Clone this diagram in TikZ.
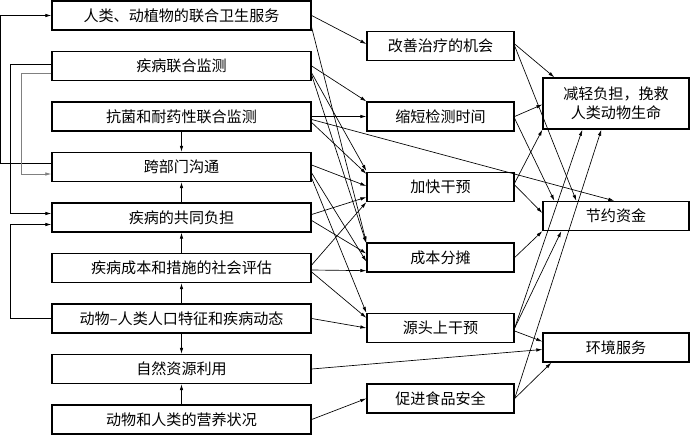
\documentclass[tikz,border=0pt]{standalone}
\usepackage{fontspec}
\newfontfamily\cjk{Noto Sans CJK SC}
\usetikzlibrary{arrows.meta,calc}

\begin{document}
\begin{tikzpicture}[x=0.75pt,y=-0.75pt,
  box/.style={draw,line width=1pt,inner sep=0pt,font=\cjk\fontsize{11.3}{14}\selectfont,align=center},
  lbox/.style={box,minimum width=194.25pt,minimum height=21.75pt},
  mbox/.style={box,minimum width=110.25pt,minimum height=21.75pt},
  rbox/.style={box,minimum width=109.5pt,minimum height=21.75pt},
  link/.style={line width=0.5pt,-{Latex[length=4.5pt,width=2.6pt]}}]
\useasboundingbox (0,0) rectangle (690,435);
\node[lbox] (L1) at (181.5,15.5) {人类、动植物的联合卫生服务};
\node[lbox] (L2) at (181.5,66) {疾病联合监测};
\node[lbox] (L3) at (181.5,116.5) {抗菌和耐药性联合监测};
\node[lbox] (L4) at (181.5,167) {跨部门沟通};
\node[lbox] (L5) at (181.5,217.5) {疾病的共同负担};
\node[lbox] (L6) at (181.5,268) {疾病成本和措施的社会评估};
\node[lbox] (L7) at (181.5,318.5) {动物–人类人口特征和疾病动态};
\node[lbox] (L8) at (181.5,369) {自然资源利用};
\node[lbox] (L9) at (181.5,419.5) {动物和人类的营养状况};
\node[mbox] (M1) at (440.5,46) {改善治疗的机会};
\node[mbox] (M2) at (440.5,116.5) {缩短检测时间};
\node[mbox] (M3) at (440.5,187) {加快干预};
\node[mbox] (M4) at (440.5,257.5) {成本分摊};
\node[mbox] (M5) at (440.5,328) {源头上干预};
\node[mbox] (M6) at (440.5,398.5) {促进食品安全};
\node[rbox,minimum height=38.25pt] (R1) at (616,103.5) {减轻负担，挽救\\人类动物生命};
\node[rbox] (R2) at (616,216) {节约资金};
\node[rbox] (R3) at (616,347.5) {环境服务};
\draw[link] (L3) -- (L4);
\draw[link] (L5) -- (L4);
\draw[link] (L6) -- (L5);
\draw[link] (L7) -- (L6);
\draw[link] (L7) -- (L8);
\draw[link] (L9) -- (L8);
\draw[link] ($(L4.west)+(0,-4)$) -- ++(-51,0) |- (L1.west);
\draw[link] ($(L2.west)+(0,-2)$) -- ++(-41,0) |- ($(L5.west)+(0,-4)$);
\draw[link,gray] ($(L2.west)+(0,7)$) -- ++(-30,0) |- ($(L4.west)+(0,7)$);
\draw[link] (L7.west) -- ++(-41,0) |- ($(L5.west)+(0,7)$);
\draw[link] (L1.east) -- ($(M1.west)+(0,-2)$);
\draw[link] ($(L1.east)+(0,12)$) -- (M4.north west);
\draw[link] (L2.east) -- (M2.north west);
\draw[link] ($(L2.east)+(0,7)$) -- ($(M3.north west)+(0,-1)$);
\draw[link] ($(L2.east)+(0,9)$) -- ($(M4.north west)+(0,1)$);
\draw[link] (L3.east) -- (M2.west);
\draw[link] ($(L3.east)+(0,3)$) -- ($(R2.north west)+(72,0)$);
\draw[link] ($(L3.east)+(0,6)$) -- ($(M3.north west)+(0,2)$);
\draw[link] ($(L4.east)+(0,-2)$) -- ($(M3.west)+(0,-1)$);
\draw[link] ($(L4.east)+(0,6)$) -- ($(M4.west)+(0,4)$);
\draw[link] ($(L4.east)+(0,11)$) -- (M5.north west);
\draw[link] ($(L5.east)+(0,-3)$) -- ($(M3.south west)+(0,-5)$);
\draw[link] ($(L5.east)+(0,3)$) -- ($(M4.west)+(0,-4)$);
\draw[link] ($(L6.east)+(0,-3)$) -- (M3.south west);
\draw[link] ($(L6.east)+(0,2)$) -- ($(M4.south west)+(0,-2)$);
\draw[link] ($(L6.east)+(0,4)$) -- ($(M5.north west)+(0,5)$);
\draw[link] (L7.east) -- (M5.west);
\draw[link] (L8.east) -- ($(R3.west)+(0,2)$);
\draw[link] (L9.east) -- (M6.west);
\draw[link] ($(M1.east)+(0,-2)$) -- ($(R1.north west)+(12,0)$);
\draw[link] (M1.east) -- ($(R2.north west)+(34,0)$);
\draw[link] (M2.east) -- ($(R1.west)+(0,1)$);
\draw[link] ($(M2.east)+(0,2)$) -- ($(R2.north west)+(12,0)$);
\draw[link] ($(M3.east)+(0,-4)$) -- (R1.south west);
\draw[link] ($(M3.east)+(0,-2)$) -- ($(R2.west)+(0,-3)$);
\draw[link] (M4.east) -- (R2.south west);
\draw[link] (M5.east) -- ($(R1.south west)+(40,0)$);
\draw[link] (M5.east) -- ($(R2.south west)+(19,0)$);
\draw[link] ($(M5.east)+(0,3)$) -- ($(R3.west)+(0,-6)$);
\draw[link] (M6.east) -- ($(R1.south west)+(59,0)$);
\draw[link] (M6.east) -- ($(R3.south west)+(9,0)$);
\end{tikzpicture}
\end{document}
